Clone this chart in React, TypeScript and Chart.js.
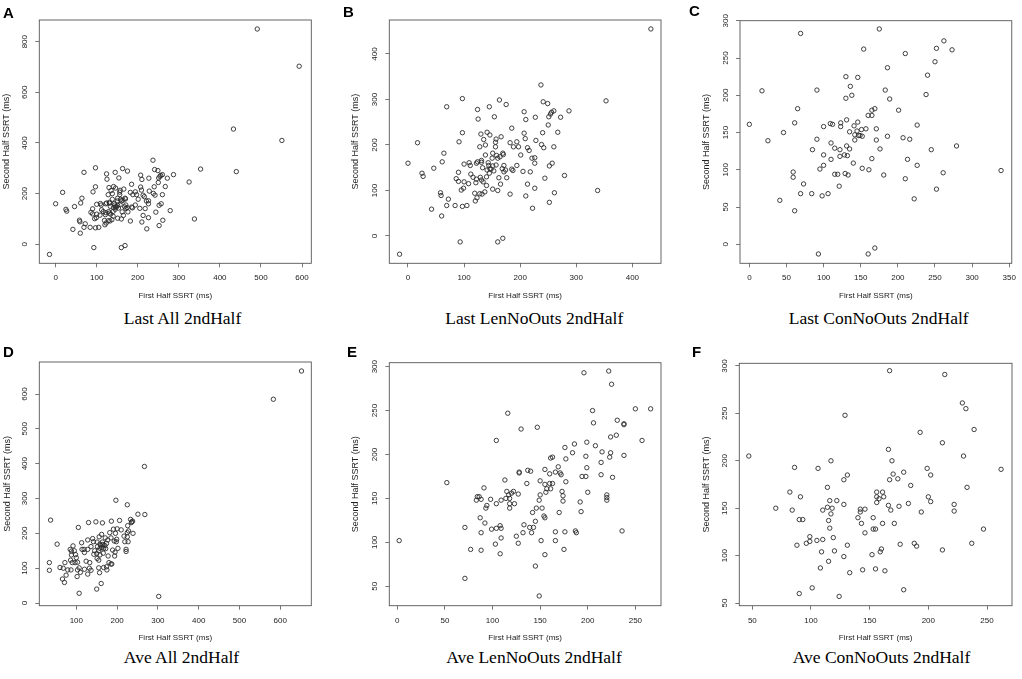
import { useEffect, useRef } from "react"
import { Chart, registerables } from "chart.js"

Chart.register(...registerables)

// Last, LenNoOuts subjects (panel B); panel A adds the outliers below
const lastLenFirst = [433,237,97,163,175,69,124,145,241,249,353,207,287,256,260,254,125,154,210,227,251,272,250,97,141,130,146,166,185,240,267,17,91,128,138,135,156,157,156,182,194,188,197,201,207,209,213,216,238,242,260,0,64,61,25,27,46,90,86,90,100,109,111,112,116,122,124,122,121,131,131,133,129,131,134,138,143,144,141,145,140,148,151,150,151,157,153,146,158,160,164,169,170,168,171,171,162,165,160,151,140,137,132,128,119,120,123,108,100,99,95,105,97,84,69,72,58,59,60,42,93,160,169,-15,174,185,187,194,176,182,205,218,213,210,226,222,244,252,257,226,226,221,252,261,279,338,228]
const lastLenSecond = [455,332,302,299,289,284,278,284,295,291,297,273,275,272,275,268,257,262,256,261,262,261,244,227,228,224,222,218,237,227,228,205,207,196,200,212,206,213,196,205,207,196,196,178,226,214,194,188,201,194,196,160,182,163,138,131,149,140,126,120,158,161,155,136,129,160,163,125,117,166,162,150,129,123,119,178,161,155,145,138,130,147,154,171,182,156,143,148,177,171,174,182,179,148,155,141,128,114,100,103,111,97,92,93,94,77,84,115,119,105,101,67,65,67,67,81,95,89,44,59,-13,-13,-5,-40,145,147,144,155,128,92,142,141,114,88,105,61,127,154,160,160,172,171,74,95,133,100,210]
const lastAllExtraFirst = [325,440,491,551,593]
const lastAllExtraSecond = [246,287,850,410,703]

const lastConFirst = [175,69,154,210,262,252,273,250,186,240,130,146,136,17,91,183,138,130,189,238,65,169,165,160,165,201,131,61,109,112,123,123,0,46,100,146,141,135,145,151,157,171,142,147,149,152,142,171,186,207,216,226,25,91,110,115,131,132,135,122,122,128,85,176,165,140,152,161,100,110,100,95,115,119,129,133,181,213,226,245,279,210,261,339,252,222,59,59,73,69,84,98,106,121,41,61,93,160,169]
const lastConSecond = [289,283,262,256,273,263,261,245,237,227,225,224,212,206,207,207,200,196,195,201,182,182,180,173,173,180,167,163,162,161,163,158,161,150,158,164,159,151,152,154,155,155,147,146,146,145,140,140,145,143,141,160,139,141,136,129,132,119,128,127,118,120,127,128,115,109,102,100,120,114,106,101,94,94,95,93,93,114,106,127,132,88,96,99,74,61,97,90,81,68,68,65,68,78,59,45,-13,-13,-5]

const aveAllFirst = [652,583,267,302,37,197,225,251,268,130,148,164,105,186,206,233,238,226,53,34,34,60,68,72,66,71,75,79,85,88,88,92,86,90,87,98,97,103,103,102,107,110,107,113,114,119,128,128,124,120,132,133,136,128,142,136,143,151,150,151,152,155,155,157,150,161,156,162,164,158,158,167,166,167,171,174,172,177,178,175,182,191,185,193,189,185,187,195,194,198,196,199,200,202,210,217,219,222,222,227,225,225,228,235,239,236,180,174,158,160,163,165,155,170,145,140,120,95,100]
const aveAllSecond = [666,585,392,19,238,295,282,255,254,231,233,230,217,235,237,240,235,222,169,116,94,102,100,116,69,59,80,95,154,149,138,164,123,116,95,139,116,117,95,76,28,88,101,173,154,154,181,154,120,97,100,116,94,83,176,162,140,128,142,175,162,123,101,87,40,56,190,197,175,169,157,157,143,102,187,171,156,181,135,95,202,212,187,178,152,112,112,146,135,176,200,183,213,157,210,192,176,154,148,176,190,202,207,231,200,233,116,104,138,165,160,168,150,165,150,185,145,150,130]

const aveLenFirst = [222,196,225,116,205,250,266,130,147,206,231,238,238,224,230,257,104,199,208,186,176,184,215,224,238,163,161,198,177,223,169,199,214,128,128,137,140,155,166,171,160,172,214,194,198,226,52,113,136,150,177,155,160,163,157,161,156,200,173,91,84,86,83,88,98,94,93,104,109,114,115,117,120,122,118,118,118,123,127,150,149,174,174,192,220,220,220,146,152,170,142,193,154,155,87,92,145,133,108,139,143,71,99,104,109,125,132,141,88,166,176,187,188,236,109,103,127,151,166,2,77,88,108,155,175,145,71,149]
const aveLenSecond = [295,293,280,247,250,252,252,229,231,236,239,234,235,220,222,216,216,214,210,212,208,202,203,202,199,197,196,198,195,197,186,185,191,180,179,182,181,183,180,179,178,177,177,175,175,174,168,171,167,170,169,166,167,167,161,161,157,157,158,162,152,152,148,149,149,142,139,144,148,150,158,154,156,158,150,144,139,144,155,154,148,153,147,146,154,151,148,139,139,134,134,135,130,128,128,122,124,120,119,117,117,117,115,116,116,107,111,111,111,112,112,113,111,113,105,98,99,102,102,102,92,91,87,86,92,73,59,39]

const aveConFirst = [167,214,229,232,129,239,193,212,47,166,230,117,169,86,106,199,262,131,170,179,202,128,167,174,114,233,185,82,91,156,161,116,122,156,158,156,162,200,202,222,222,70,84,110,114,118,128,142,142,166,168,175,183,194,90,93,115,117,140,143,146,153,161,171,116,146,153,155,247,99,110,105,96,99,88,119,131,176,188,190,237,109,120,160,159,152,128,212,108,115,133,144,155,163,101,90,124,179]
const aveConSecond = [295,291,261,255,248,233,230,219,205,212,205,200,200,193,192,192,191,185,186,188,185,180,180,181,172,172,174,167,162,167,167,158,158,162,160,156,162,162,157,154,147,150,148,148,151,150,154,149,146,153,148,152,155,146,138,138,137,144,140,134,149,140,134,134,129,124,128,128,128,120,117,116,113,115,111,119,111,112,113,110,113,104,105,107,104,101,99,106,87,94,82,85,86,84,66,60,57,64]

// tick labels
const lastAllXTicks = [0, 100, 200, 300, 400, 500, 600]
const lastAllYTicks = [0, 200, 400, 600, 800]
const lastLenXTicks = [0, 100, 200, 300, 400]
const lastLenYTicks = [0, 100, 200, 300, 400]
const lastConXTicks = [0, 50, 100, 150, 200, 250, 300, 350]
const lastConYTicks = [0, 50, 100, 150, 200, 250, 300]
const aveAllXTicks = [100, 200, 300, 400, 500, 600]
const aveAllYTicks = [0, 100, 200, 300, 400, 500, 600]
const aveLenXTicks = [0, 50, 100, 150, 200, 250]
const aveLenYTicks = [50, 100, 150, 200, 250, 300]
const aveConXTicks = [50, 100, 150, 200, 250]
const aveConYTicks = [50, 100, 150, 200, 250, 300]

const xTitle = "First Half SSRT (ms)"
const yTitle = "Second Half SSRT (ms)"

const SANS = "'Liberation Sans', Arial, sans-serif"
const SERIF = "'Liberation Serif', 'Times New Roman', serif"

interface PanelSpec {
  letter: string
  caption: string
  xs: number[]
  ys: number[]
  xRange: [number, number]
  yRange: [number, number]
  xTicks: number[]
  yTicks: number[]
  // layout (px)
  left: number
  top: number
  box: { l: number; t: number; r: number; b: number }
  yTitleX: number
  xTitleY: number
  letterPos: [number, number]
  captionPos: [number, number]
}

const PANEL_W = 340
const PANEL_H = 305

const panels: PanelSpec[] = [
  {
    letter: "A", caption: "Last All 2ndHalf",
    xs: [...lastLenFirst, ...lastAllExtraFirst], ys: [...lastLenSecond, ...lastAllExtraSecond],
    xRange: [-39.8, 622.6], yRange: [-75, 885.5], xTicks: lastAllXTicks, yTicks: lastAllYTicks,
    left: 0, top: 0, box: { l: 39.3, t: 20, r: 311.3, b: 263.3 }, yTitleX: 7, xTitleY: 296,
    letterPos: [3, 7], captionPos: [182.5, 325],
  },
  {
    letter: "B", caption: "Last LenNoOuts 2ndHalf",
    xs: lastLenFirst, ys: lastLenSecond,
    xRange: [-33.3, 451], yRange: [-60, 474.7], xTicks: lastLenXTicks, yTicks: lastLenYTicks,
    left: 340, top: 0, box: { l: 49.3, t: 20, r: 321, b: 263.3 }, yTitleX: 16, xTitleY: 296,
    letterPos: [343, 6], captionPos: [534.3, 325],
  },
  {
    letter: "C", caption: "Last ConNoOuts 2ndHalf",
    xs: lastConFirst, ys: lastConSecond,
    xRange: [-12.6, 353.4], yRange: [-25.5, 300.1], xTicks: lastConXTicks, yTicks: lastConYTicks,
    left: 682, top: 0, box: { l: 58, t: 20.7, r: 330, b: 263.3 }, yTitleX: 25, xTitleY: 296,
    letterPos: [689, 5], captionPos: [878.7, 325],
  },
  {
    letter: "D", caption: "Ave All 2ndHalf",
    xs: aveAllFirst, ys: aveAllSecond,
    xRange: [9.3, 676], yRange: [-7.7, 691.9], xTicks: aveAllXTicks, yTicks: aveAllYTicks,
    left: 0, top: 340, box: { l: 39.3, t: 22, r: 311.3, b: 265.7 }, yTitleX: 7.3, xTitleY: 297.7,
    letterPos: [3, 346], captionPos: [181.5, 664],
  },
  {
    letter: "E", caption: "Ave LenNoOuts 2ndHalf",
    xs: aveLenFirst, ys: aveLenSecond,
    xRange: [-8.4, 276.9], yRange: [27.9, 304.5], xTicks: aveLenXTicks, yTicks: aveLenYTicks,
    left: 340, top: 340, box: { l: 49.3, t: 22.7, r: 321, b: 265.7 }, yTitleX: 16, xTitleY: 297.7,
    letterPos: [347, 346], captionPos: [534, 664],
  },
  {
    letter: "F", caption: "Ave ConNoOuts 2ndHalf",
    xs: aveConFirst, ys: aveConSecond,
    xRange: [38.9, 271.3], yRange: [47.2, 302.8], xTicks: aveConXTicks, yTicks: aveConYTicks,
    left: 682, top: 340, box: { l: 57.3, t: 23.3, r: 330, b: 265.7 }, yTitleX: 25, xTitleY: 297.7,
    letterPos: [692, 346], captionPos: [881.5, 664],
  },
]

// draws the full frame around the plot region, like R's box()
const frameBox = {
  id: "frameBox",
  afterDraw(chart: Chart) {
    const { ctx, chartArea: a } = chart
    ctx.save()
    ctx.strokeStyle = "#555"
    ctx.lineWidth = 0.9
    ctx.strokeRect(a.left, a.top, a.right - a.left, a.bottom - a.top)
    ctx.restore()
  },
}

function ScatterPanel({ spec }: { spec: PanelSpec }) {
  const canvasRef = useRef<HTMLCanvasElement>(null)
  const chartRef = useRef<Chart | null>(null)

  useEffect(() => {
    if (!canvasRef.current) return
    const ctx = canvasRef.current.getContext("2d")
    if (!ctx) return

    const { box } = spec
    const xAxisH = PANEL_H - box.b
    const tickFont = { family: SANS, size: 8 }
    const xTitleFont = { family: SANS, size: 8 }
    const yTitleFont = { family: SANS, size: 9 }

    chartRef.current = new Chart(ctx, {
      type: "scatter",
      data: {
        datasets: [
          {
            data: spec.xs.map((x, i) => ({ x, y: spec.ys[i] })),
            showLine: false,
            pointRadius: 2.2,
            pointHoverRadius: 2.2,
            pointBorderWidth: 0.9,
            pointBorderColor: "#2b2b2b",
            pointBackgroundColor: "rgba(0,0,0,0)",
          },
        ],
      },
      options: {
        animation: false,
        responsive: true,
        maintainAspectRatio: false,
        layout: { padding: { top: box.t, right: PANEL_W - box.r, left: 0, bottom: 0 } },
        plugins: { legend: { display: false }, tooltip: { enabled: false } },
        scales: {
          x: {
            type: "linear",
            position: "bottom",
            min: spec.xRange[0],
            max: spec.xRange[1],
            afterBuildTicks: (axis: any) => {
              axis.ticks = spec.xTicks.map((v) => ({ value: v }))
            },
            afterFit: (scale: any) => {
              scale.height = xAxisH
            },
            grid: { drawOnChartArea: false, drawTicks: true, tickLength: 4, color: "#555", lineWidth: 0.8 },
            border: { display: false },
            ticks: { font: tickFont, color: "#222", padding: 6, autoSkip: false, maxRotation: 0, minRotation: 0 },
            title: {
              display: true,
              text: xTitle,
              font: xTitleFont,
              color: "#222",
              padding: { top: 0, bottom: PANEL_H - spec.xTitleY - 4.8 },
            },
          },
          y: {
            type: "linear",
            position: "left",
            min: spec.yRange[0],
            max: spec.yRange[1],
            afterBuildTicks: (axis: any) => {
              axis.ticks = spec.yTicks.map((v) => ({ value: v }))
            },
            afterFit: (scale: any) => {
              scale.width = box.l
            },
            grid: { drawOnChartArea: false, drawTicks: true, tickLength: 4, color: "#555", lineWidth: 0.8 },
            border: { display: false },
            ticks: {
              font: tickFont,
              color: "#222",
              padding: 3.6,
              autoSkip: false,
              minRotation: 90,
              maxRotation: 90,
              crossAlign: "center",
            },
            title: {
              display: true,
              text: yTitle,
              font: yTitleFont,
              color: "#222",
              padding: { top: spec.yTitleX - 5.4, bottom: 0 },
            },
          },
        },
      },
      plugins: [frameBox],
    } as any)

    return () => {
      if (chartRef.current) {
        chartRef.current.destroy()
        chartRef.current = null
      }
    }
  }, [spec])

  return (
    <div style={{ position: "absolute", left: spec.left, top: spec.top, width: PANEL_W, height: PANEL_H }}>
      <canvas ref={canvasRef}></canvas>
    </div>
  )
}

export default function App() {
  return (
    <div style={{ position: "absolute", left: 0, top: 0, width: 1022, height: 679, background: "#fff", overflow: "hidden" }}>
      {panels.map((p) => (
        <ScatterPanel key={p.letter} spec={p} />
      ))}
      {panels.map((p) => (
        <div
          key={"l" + p.letter}
          style={{
            position: "absolute",
            left: p.letterPos[0],
            top: p.letterPos[1] - 2,
            font: `bold 15px ${SANS}`,
            lineHeight: "15px",
            color: "#000",
          }}
        >
          {p.letter}
        </div>
      ))}
      {panels.map((p) => (
        <div
          key={"c" + p.letter}
          style={{
            position: "absolute",
            left: p.captionPos[0] - 150,
            top: p.captionPos[1] - 14.6,
            width: 300,
            textAlign: "center",
            font: `17.5px ${SERIF}`,
            lineHeight: "17.5px",
            color: "#000",
            whiteSpace: "nowrap",
          }}
        >
          {p.caption}
        </div>
      ))}
    </div>
  )
}
